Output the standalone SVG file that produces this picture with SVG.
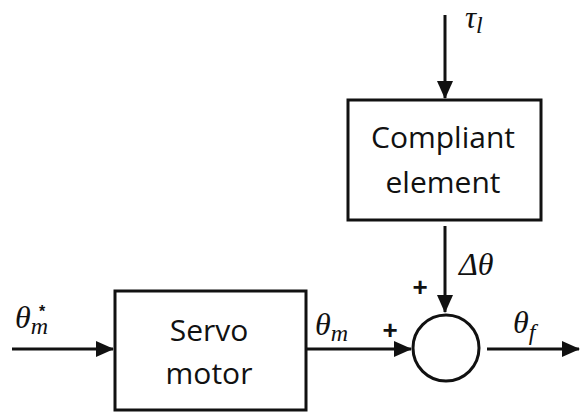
<svg xmlns="http://www.w3.org/2000/svg" width="581" height="415" viewBox="0 0 581 415">
<style>
.box{fill:#fff;stroke:#111;stroke-width:3}
.ln{fill:none;stroke:#111;stroke-width:3}
.t{font-family:"Open Sans","DejaVu Sans",sans-serif;font-size:30px;fill:#111;text-anchor:middle}
.m{font-family:"Liberation Serif","DejaVu Serif",serif;font-style:italic;font-size:32px;fill:#111}
.s{font-size:24px}
.a{font-family:"Liberation Sans",sans-serif;font-style:normal;font-size:16px;font-weight:bold}
.p{font-family:"Liberation Sans",sans-serif;font-size:26px;font-weight:bold;fill:#111;text-anchor:middle}
</style>
<defs>
<marker id="ah" markerWidth="18" markerHeight="16" refX="17" refY="8" orient="auto" markerUnits="userSpaceOnUse">
<path d="M0,0 L18,8 L0,16 Z" fill="#111"/>
</marker>
</defs>
<rect width="581" height="415" fill="#fff"/>
<g id="connectors">
<line class="ln" x1="12" y1="349" x2="113" y2="349" marker-end="url(#ah)"/>
<line class="ln" x1="306" y1="349" x2="411" y2="349" marker-end="url(#ah)"/>
<line class="ln" x1="445" y1="15" x2="445" y2="98" marker-end="url(#ah)"/>
<line class="ln" x1="445" y1="226" x2="445" y2="312" marker-end="url(#ah)"/>
<line class="ln" x1="487" y1="349" x2="579" y2="349" marker-end="url(#ah)"/>
</g>
<g id="servo">
<rect class="box" x="115" y="291" width="191" height="119"/>
<text class="t" x="209" y="341">Servo</text>
<text class="t" x="209" y="384">motor</text>
</g>
<g id="compliant">
<rect class="box" x="348" y="100" width="193" height="120"/>
<text class="t" x="443" y="148">Compliant</text>
<text class="t" x="443" y="193">element</text>
</g>
<g id="sum">
<circle cx="446" cy="348" r="33" fill="#fff" stroke="#111" stroke-width="3"/>
</g>
<g id="labels">
<text class="m" x="15" y="328">θ<tspan class="s" dy="6">m</tspan><tspan class="a" x="39" y="317">*</tspan></text>
<text class="m" x="315" y="335">θ<tspan class="s" dy="6">m</tspan></text>
<text class="m" x="465" y="28" style="font-size:31px">τ<tspan class="s" dy="5">l</tspan></text>
<text class="m" x="459" y="275">Δθ</text>
<text class="m" x="513" y="333">θ<tspan class="s" dy="7">f</tspan></text>
<text class="p" x="390" y="339">+</text>
<text class="p" x="420" y="296">+</text>
</g>
</svg>
